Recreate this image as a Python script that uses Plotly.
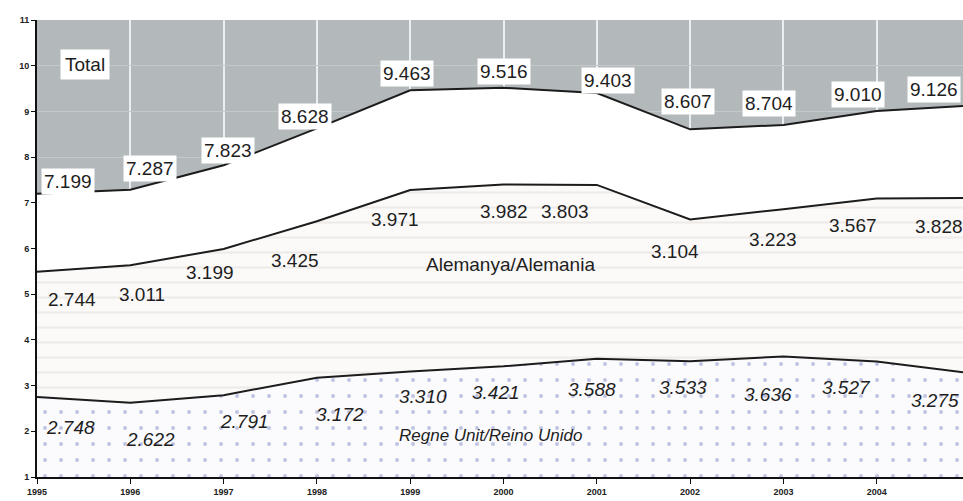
import plotly.graph_objects as go

years = [1995, 1996, 1997, 1998, 1999, 2000, 2001, 2002, 2003, 2004, 2005]
uk = [2.748, 2.622, 2.791, 3.172, 3.310, 3.421, 3.588, 3.533, 3.636, 3.527, 3.275]
germany = [2.744, 3.011, 3.199, 3.425, 3.971, 3.982, 3.803, 3.104, 3.223, 3.567, 3.828]
total = [7.199, 7.287, 7.823, 8.628, 9.463, 9.516, 9.403, 8.607, 8.704, 9.010, 9.126]
y_ticks = [1, 2, 3, 4, 5, 6, 7, 8, 9, 10, 11]

uk_de = [a + b for a, b in zip(uk, germany)]

def fmt(v):
    return f"{v:.3f}"

FONT = "Liberation Sans, Arial, sans-serif"
LINE = dict(color="#1c1c1c", width=2)
PX_PER_YEAR = 93.3

fig = go.Figure()
fig.add_trace(go.Scatter(
    x=years, y=uk, mode="lines", line=LINE, fill="tozeroy",
    fillcolor="#fbfbfd",
    fillpattern=dict(shape=".", fgcolor="#858cc6", bgcolor="#fbfbfd", size=16, solidity=0.05),
    hoverinfo="skip", showlegend=False))
fig.add_trace(go.Scatter(
    x=years, y=uk_de, mode="lines", line=LINE, fill="tonexty",
    fillcolor="#fbfaf9",
    fillpattern=dict(shape="-", fgcolor="#dfd9d5", bgcolor="#fbfaf9", size=15, solidity=0.13),
    hoverinfo="skip", showlegend=False))
fig.add_trace(go.Scatter(
    x=years, y=total, mode="lines", line=LINE, fill="tonexty",
    fillcolor="#ffffff", hoverinfo="skip", showlegend=False))

# label offsets (pixels) relative to the data points
tot_off = [(31, 12), (20, 21), (4, 15), (-12, 12), (-3, 17), (0, 16), (11, 12), (-2, 28), (-14, 21), (-19, 16), (-36, 16)]
de_off = [(35, -28), (12, -29), (-14, -24), (-22, -39), (-15, -30), (0, -27), (-32, -27), (-15, -32), (-10, -30), (-24, -27), (-31, -28)]
uk_off = [(33, -30), (20, -37), (21, -26), (23, -37), (13, -25), (-8, -26), (-5, -31), (-7, -26), (-15, -38), (-30, -26), (-35, -27)]

NUMFONT = dict(family=FONT, size=19, color="#1e1e1e")
ann = []
for i, yr in enumerate(years):
    ann.append(dict(x=yr + tot_off[i][0] / PX_PER_YEAR, y=total[i], text=fmt(total[i]), showarrow=False,
                    yshift=tot_off[i][1], bgcolor="white", borderpad=2, font=NUMFONT))
    ann.append(dict(x=yr + de_off[i][0] / PX_PER_YEAR, y=uk_de[i], text=fmt(germany[i]), showarrow=False,
                    yshift=de_off[i][1], font=NUMFONT))
    ann.append(dict(x=yr + uk_off[i][0] / PX_PER_YEAR, y=uk[i], text="<i>" + fmt(uk[i]) + "</i>", showarrow=False,
                    yshift=uk_off[i][1], font=NUMFONT))

ann.append(dict(x=1995.51, y=10.02, text="Total", showarrow=False, bgcolor="white", borderpad=4,
                font=dict(family=FONT, size=19, color="#1e1e1e")))
ann.append(dict(x=2000.08, y=5.66, text="Alemanya/Alemania", showarrow=False,
                font=dict(family=FONT, size=19, color="#1e1e1e")))
ann.append(dict(x=1999.86, y=1.90, text="<i>Regne Unit/Reino Unido</i>", showarrow=False,
                font=dict(family=FONT, size=17, color="#1e1e1e")))

fig.update_layout(
    width=963, height=501,
    margin=dict(l=37, r=0, t=20, b=24),
    paper_bgcolor="white",
    plot_bgcolor="#b3b8bb",
    annotations=ann,
    showlegend=False,
    xaxis=dict(
        range=[1995, 2004.925], tickmode="array", tickvals=years,
        ticktext=[str(y) for y in years],
        showgrid=True, gridcolor="#e9eef2", gridwidth=1.5,
        showline=True, linecolor="#111", linewidth=2,
        ticks="outside", ticklen=5, tickcolor="#111",
        tickfont=dict(family=FONT, size=9, color="#222", weight="bold"),
        zeroline=False, fixedrange=True),
    yaxis=dict(
        range=[1, 11], tickmode="array", tickvals=y_ticks,
        showgrid=True, gridcolor="#c3c8cb", gridwidth=1,
        showline=True, linecolor="#111", linewidth=2,
        ticks="outside", ticklen=4, tickcolor="#111",
        tickfont=dict(family=FONT, size=9, color="#222", weight="bold"),
        zeroline=False, fixedrange=True),
)

fig.write_html("out.html",
               config={"displayModeBar": False},
               post_script="document.body.style.margin='0';document.body.style.overflow='hidden';")
